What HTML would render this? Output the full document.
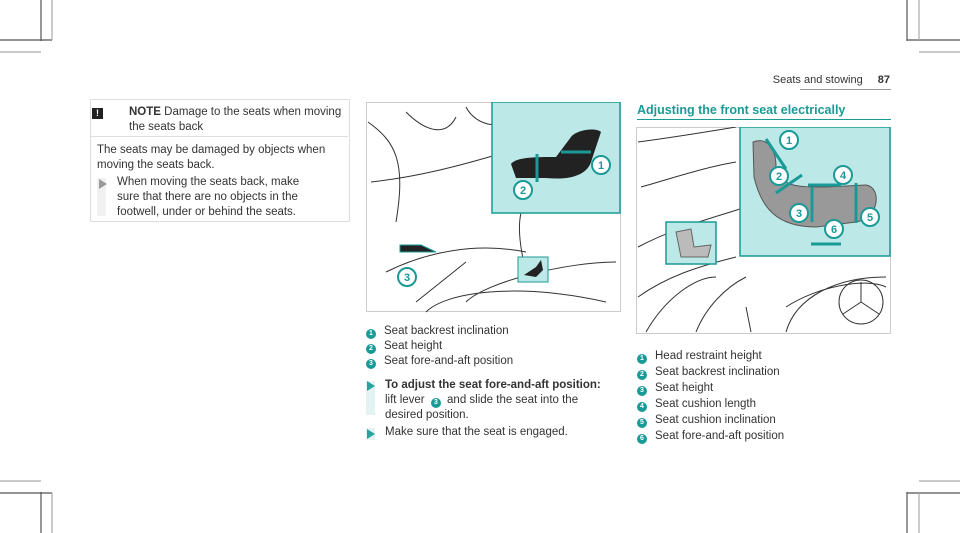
<!DOCTYPE html>
<html><head><meta charset="utf-8"><style>
body{margin:0;width:960px;height:533px;position:relative;background:#fff;font-family:"Liberation Sans",sans-serif;color:#333;overflow:hidden}
.a{position:absolute}
.t{font-size:11.5px;line-height:15px;white-space:nowrap}
.n{display:inline-block;width:10px;height:10px;border-radius:50%;background:#1a9a96;color:#fff;font-size:7px;line-height:10px;text-align:center;font-weight:bold;vertical-align:-1px;margin-right:8px}
.bar{position:absolute;width:9px;background:#e3f3f3}
.tri{position:absolute;width:0;height:0;border-left:8px solid #29a2a0;border-top:5px solid transparent;border-bottom:5px solid transparent}
</style></head><body>
<svg class="a" style="left:0;top:0" width="960" height="533">
<g stroke="#555" stroke-width="1.2" fill="none">
<path d="M41 0V41M0 40H52M907 0V41M907 40H960M41 533V492M0 493H52M907 533V492M907 493H960"/>
</g>
<g stroke="#aaa" stroke-width="1.2" fill="none">
<path d="M52 0V40M0 52H41M919 0V40M919 52H960M52 533V493M0 481H41M919 533V493M919 481H960"/>
</g>
</svg>
<div class="a t" style="right:70px;top:73px;font-size:11px">Seats and stowing <b style="margin-left:12px">87</b></div>
<div class="a" style="left:800px;top:89px;width:91px;height:1px;background:#999"></div>

<div class="a" style="left:90px;top:99px;width:258px;height:121px;border:1px solid #ddd"></div>
<div class="a" style="left:90px;top:136px;width:258px;height:1px;background:#ddd"></div>
<div class="a" style="left:92px;top:108px;width:11px;height:11px;background:#222;color:#fff;font-size:9px;line-height:11px;text-align:center;font-weight:bold">!</div>
<div class="a t" style="left:129px;top:105px"><b>NOTE</b> Damage to the seats when moving<br>the seats back</div>
<div class="a t" style="left:97px;top:143px">The seats may be damaged by objects when<br>moving the seats back.</div>
<div class="bar" style="left:97px;top:178px;height:38px;background:#f1f1f1"></div>
<div class="tri" style="left:99px;top:179px;border-left-color:#999"></div>
<div class="a t" style="left:117px;top:175px">When moving the seats back, make<br>sure that there are no objects in the<br>footwell, under or behind the seats.</div>

<svg class="a" style="left:366px;top:102px" width="256" height="211">
<rect x="0.5" y="0.5" width="254" height="209" fill="#fff" stroke="#ccc"/>
<g stroke="#333" stroke-width="1" fill="none">
<path d="M2 20C30 40 40 60 30 120M5 80C50 75 90 65 140 50M20 170C60 150 110 140 160 150M60 210C80 190 150 180 240 200M130 100C160 80 200 75 250 70M40 10C60 30 80 35 90 15M100 5C110 25 140 30 150 10M100 200C120 180 200 160 250 160M50 200L100 160M160 170C150 130 150 100 170 90"/>
</g>
<rect x="126" y="0" width="128" height="111" fill="#bce9e7" stroke="#1a9a96" stroke-width="1.5"/>
<path d="M145 62C150 55 170 55 190 55L205 35C210 28 230 25 235 30L225 60C220 75 200 78 180 76L150 76Z" fill="#222"/>
<g stroke="#1a9a96" stroke-width="3" fill="#1a9a96"><path d="M171 52V80M195 50H225"/></g>
<g fill="#fff" stroke="#1a9a96" stroke-width="2"><circle cx="235" cy="63" r="9"/><circle cx="157" cy="88" r="9"/><circle cx="41" cy="175" r="9"/></g>
<g fill="#1a9a96" font-size="11" font-weight="bold" text-anchor="middle" font-family="Liberation Sans"><text x="235" y="67">1</text><text x="157" y="92">2</text><text x="41" y="179">3</text></g>
<path d="M34 143H55L70 150H34Z" fill="#222" stroke="#1a9a96"/>
<rect x="152" y="155" width="30" height="25" fill="#bce9e7" stroke="#1a9a96"/>
<path d="M158 173L170 165L175 158L177 168L170 175Z" fill="#222"/>
</svg>
<div class="a t" style="left:366px;top:324px"><span class="n">1</span>Seat backrest inclination<br><span class="n">2</span>Seat height<br><span class="n">3</span>Seat fore-and-aft position</div>
<div class="bar" style="left:366px;top:381px;height:34px"></div>
<div class="tri" style="left:367px;top:381px"></div>
<div class="a t" style="left:385px;top:378px"><b>To adjust the seat fore-and-aft position:</b><br>lift lever <span class="n" style="margin:0 3px">3</span> and slide the seat into the<br>desired position.</div>
<div class="bar" style="left:366px;top:428px;height:12px"></div>
<div class="tri" style="left:367px;top:429px"></div>
<div class="a t" style="left:385px;top:425px">Make sure that the seat is engaged.</div>

<div class="a" style="left:637px;top:103px;font-size:12.5px;font-weight:bold;color:#1a9a96">Adjusting the front seat electrically</div>
<div class="a" style="left:637px;top:119px;width:254px;height:1px;background:#1a9a96"></div>
<svg class="a" style="left:636px;top:127px" width="256" height="208">
<rect x="0.5" y="0.5" width="254" height="206" fill="#fff" stroke="#ccc"/>
<g stroke="#333" stroke-width="1" fill="none">
<path d="M2 15C40 10 70 5 100 0M5 60C40 50 70 40 100 35M2 120C40 100 80 90 110 80M2 170C30 150 60 140 100 130M10 205C30 170 60 150 80 150M60 205C70 180 90 160 110 150M150 205C160 170 200 150 250 150M150 180C180 160 230 150 250 160M110 180L115 205"/>
<circle cx="225" cy="175" r="22"/><path d="M225 155V175L207 187M225 175L243 187"/>
</g>
<rect x="30" y="95" width="50" height="42" fill="#bce9e7" stroke="#1a9a96" stroke-width="1.5"/>
<path d="M40 105L55 102L58 120L75 118L72 130L45 130Z" fill="#bbb" stroke="#666"/>
<rect x="104" y="0" width="150" height="129" fill="#bce9e7" stroke="#1a9a96" stroke-width="1.5"/>
<path d="M117 15C130 10 140 20 140 40C145 60 160 60 190 60L230 58C245 60 245 90 220 95L180 100C140 100 125 80 118 50Z" fill="#999" stroke="#555"/>
<g stroke="#1a9a96" stroke-width="3"><path d="M130 12L150 42M140 66L166 48M176 60V95M220 56V96M172 58H205M175 117H205"/></g>
<g fill="#fff" stroke="#1a9a96" stroke-width="2"><circle cx="153" cy="13" r="9"/><circle cx="143" cy="49" r="9"/><circle cx="163" cy="86" r="9"/><circle cx="207" cy="48" r="9"/><circle cx="234" cy="90" r="9"/><circle cx="198" cy="102" r="9"/></g>
<g fill="#1a9a96" font-size="11" font-weight="bold" text-anchor="middle" font-family="Liberation Sans"><text x="153" y="17">1</text><text x="143" y="53">2</text><text x="163" y="90">3</text><text x="207" y="52">4</text><text x="234" y="94">5</text><text x="198" y="106">6</text></g>
</svg>
<div class="a t" style="left:637px;top:348px;line-height:16px"><span class="n">1</span>Head restraint height<br><span class="n">2</span>Seat backrest inclination<br><span class="n">3</span>Seat height<br><span class="n">4</span>Seat cushion length<br><span class="n">5</span>Seat cushion inclination<br><span class="n">6</span>Seat fore-and-aft position</div>
</body></html>
